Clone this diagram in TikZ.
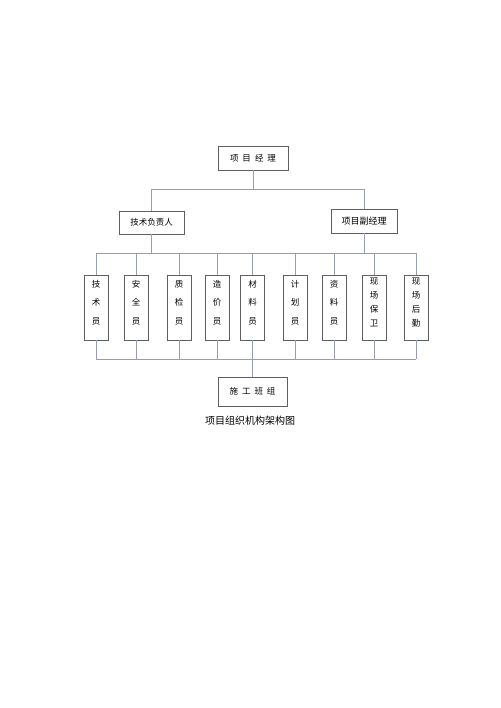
\documentclass[tikz,border=0pt]{standalone}
\usepackage{fontspec}
\newfontfamily\cjk{Noto Sans CJK SC}
\tikzset{
  post/.style={draw=boxgray, line width=0.8pt, font=\cjk\fontsize{8.5}{10}\selectfont, inner sep=0pt},
  staff/.style={post, minimum width=24, minimum height=65, align=center, text depth=11pt},
  staffwide/.style={staff, font=\cjk\fontsize{8.5}{14}\selectfont},
  staffnarrow/.style={staff, font=\cjk\fontsize{8.5}{18.5}\selectfont},
  link/.style={draw=linkgray, line width=0.8pt}
}
\definecolor{boxgray}{RGB}{95,95,95}
\definecolor{linkgray}{RGB}{150,158,175}
\begin{document}
\begin{tikzpicture}[x=1pt,y=-1pt]
\useasboundingbox[fill=white] (0,0) rectangle (500,708);
% top levels
\node[post, minimum width=70, minimum height=24] (pm) at (253,158) {项\hspace{4pt}目\hspace{4pt}经\hspace{4pt}理};
\node[post, minimum width=65, minimum height=23] (tech) at (151.5,222.5) {技术负责人};
\node[post, minimum width=66, minimum height=24, font=\cjk\fontsize{9}{10}\selectfont] (dpm) at (364,221) {项目副经理};
% staff posts
\node[staffnarrow] (jsy) at (96,307.5) {技\\术\\员};
\node[staffnarrow] (aqy) at (136,307.5) {安\\全\\员};
\node[staffnarrow] (zjy) at (179,307.5) {质\\检\\员};
\node[staffnarrow] (zjiay) at (217,307.5) {造\\价\\员};
\node[staffnarrow] (cly) at (252.5,307.5) {材\\料\\员};
\node[staffnarrow] (jhy) at (295,307.5) {计\\划\\员};
\node[staffnarrow] (zly) at (334,307.5) {资\\料\\员};
\node[staffwide] (xcbw) at (374,307.5) {现\\场\\保\\卫};
\node[staffwide] (xchq) at (416,307.5) {现\\场\\后\\勤};
% bottom
\node[post, minimum width=69, minimum height=29] (sgbz) at (252.5,391.5) {施\hspace{4pt}工\hspace{4pt}班\hspace{4pt}组};
\node[font=\cjk\fontsize{10}{12}\selectfont] (title) at (250,421) {项目组织机构架构图};
% buses
\coordinate (busT) at (0,189);
\coordinate (busA) at (0,253);
\coordinate (busB) at (0,359);
\draw[link] (pm.south) -- (pm.south |- busT);
\draw[link] (tech.north) -- (tech.north |- busT) -- (dpm.north |- busT) -- (dpm.north);
\draw[link] (tech.south) -- (tech.south |- busA);
\draw[link] (dpm.south) -- (dpm.south |- busA);
\draw[link] (jsy.north |- busA) -- (xchq.north |- busA);
\draw[link] (jsy.south |- busB) -- (xchq.south |- busB);
\draw[link] (jsy.north) -- (jsy.north |- busA) (aqy.north) -- (aqy.north |- busA) (zjy.north) -- (zjy.north |- busA);
\draw[link] (zjiay.north) -- (zjiay.north |- busA) (cly.north) -- (cly.north |- busA) (jhy.north) -- (jhy.north |- busA);
\draw[link] (zly.north) -- (zly.north |- busA) (xcbw.north) -- (xcbw.north |- busA) (xchq.north) -- (xchq.north |- busA);
\draw[link] (jsy.south) -- (jsy.south |- busB) (aqy.south) -- (aqy.south |- busB) (zjy.south) -- (zjy.south |- busB);
\draw[link] (zjiay.south) -- (zjiay.south |- busB) (cly.south) -- (cly.south |- busB) (jhy.south) -- (jhy.south |- busB);
\draw[link] (zly.south) -- (zly.south |- busB) (xcbw.south) -- (xcbw.south |- busB) (xchq.south) -- (xchq.south |- busB);
\draw[link] (cly.south |- busB) -- (sgbz.north);
\end{tikzpicture}
\end{document}
